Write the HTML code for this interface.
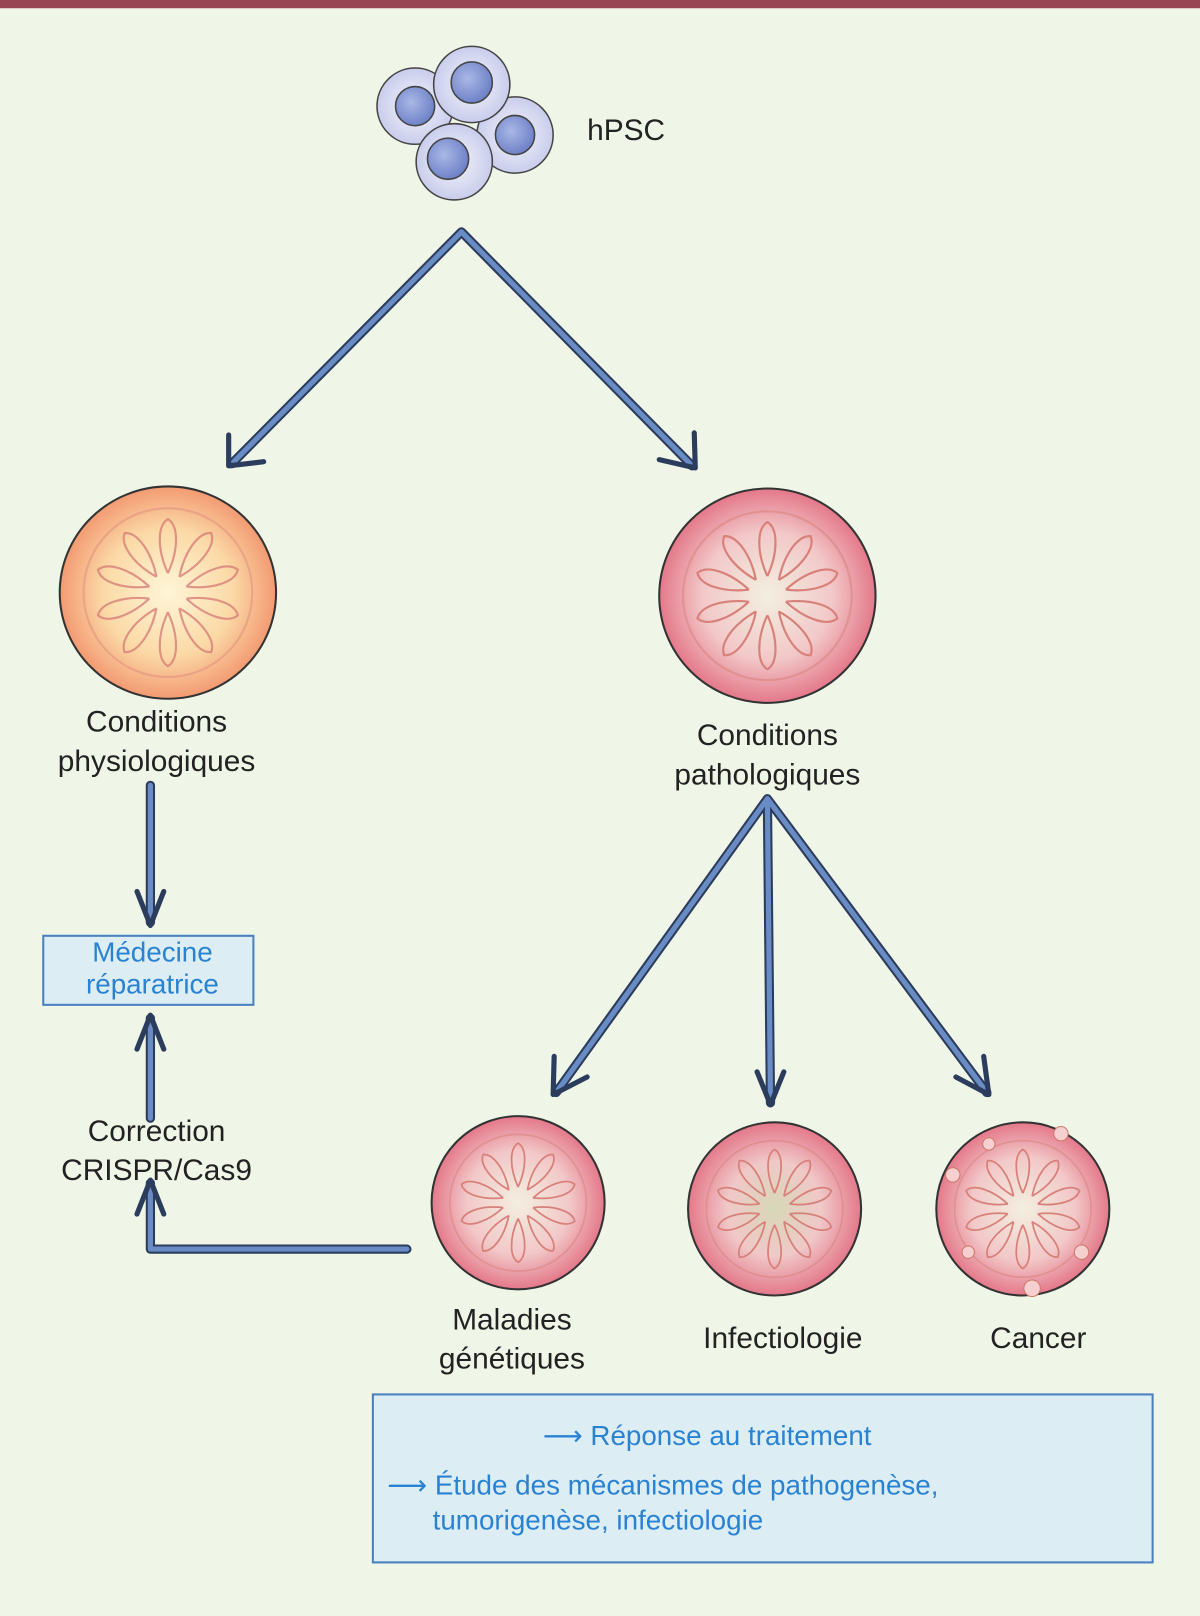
<!DOCTYPE html>
<html><head><meta charset="utf-8"><style>
html,body{margin:0;padding:0;background:#eff5e7;}
svg{display:block}
text{font-family:"Liberation Sans","DejaVu Sans",sans-serif;}
</style></head><body>
<svg width="1200" height="1616" viewBox="0 0 1165 1568" preserveAspectRatio="none" xmlns="http://www.w3.org/2000/svg">
<defs>
<radialGradient id="gOr" cx="50%" cy="50%" r="50%"><stop offset="0" stop-color="#fff6d8"/><stop offset="0.6" stop-color="#fbd9a6"/><stop offset="1" stop-color="#f39a72"/></radialGradient>
<radialGradient id="gPk" cx="50%" cy="50%" r="50%"><stop offset="0" stop-color="#f3efe0"/><stop offset="0.6" stop-color="#f2c8c8"/><stop offset="1" stop-color="#e4788a"/></radialGradient>
<radialGradient id="gInf" cx="50%" cy="50%" r="50%"><stop offset="0" stop-color="#d8d8b8"/><stop offset="0.55" stop-color="#f0c8c8"/><stop offset="1" stop-color="#e4788a"/></radialGradient>
<radialGradient id="gCell" cx="50%" cy="50%" r="50%"><stop offset="0" stop-color="#f4f5fb"/><stop offset="1" stop-color="#c9cdec"/></radialGradient>
<radialGradient id="gNuc" cx="40%" cy="40%" r="60%"><stop offset="0" stop-color="#a9b8e6"/><stop offset="1" stop-color="#6f82c8"/></radialGradient>
<g id="flower" fill="none" stroke="#d8807a" stroke-width="2">
  <g id="petal"><path d="M0,-18 C-10,-40 -10,-62 0,-68 C10,-62 10,-40 0,-18"/></g>
  <use href="#petal" transform="rotate(36)"/><use href="#petal" transform="rotate(72)"/>
  <use href="#petal" transform="rotate(108)"/><use href="#petal" transform="rotate(144)"/>
  <use href="#petal" transform="rotate(180)"/><use href="#petal" transform="rotate(216)"/>
  <use href="#petal" transform="rotate(252)"/><use href="#petal" transform="rotate(288)"/>
  <use href="#petal" transform="rotate(324)"/>
  <circle r="78" stroke-opacity="0.5"/>
</g>
</defs>
<rect width="1165" height="1568" fill="#eff5e7"/>
<rect width="1165" height="8" fill="#984652"/>

<!-- hPSC cells -->
<g stroke="#444" stroke-width="1.5">
<circle cx="403" cy="103" r="37" fill="url(#gCell)"/><circle cx="403" cy="103" r="19" fill="url(#gNuc)"/>
<circle cx="500" cy="131" r="37" fill="url(#gCell)"/><circle cx="500" cy="131" r="19" fill="url(#gNuc)"/>
<circle cx="458" cy="82" r="37" fill="url(#gCell)"/><circle cx="458" cy="80" r="20" fill="url(#gNuc)"/>
<circle cx="441" cy="157" r="37" fill="url(#gCell)"/><circle cx="435" cy="154" r="20" fill="url(#gNuc)"/>
</g>
<text x="570" y="136" font-size="29" fill="#222">hPSC</text>

<!-- arrows -->
<g fill="none" stroke-linecap="round" stroke-linejoin="round">
<g stroke="#2b3c5c" stroke-width="9">
<path d="M448,225 L225,450 M448,225 L672,452"/>
<path d="M745,775 L540,1060 M745,775 L748,1070 M745,775 L958,1060"/>
<path d="M146,762 L146,895 M146,1085 L146,988 M146,1148 L146,1212 L395,1212"/>
</g>
<g stroke="#6a8cc4" stroke-width="5">
<path d="M448,225 L225,450 M448,225 L672,452"/>
<path d="M745,775 L540,1060 M745,775 L748,1070 M745,775 L958,1060"/>
<path d="M146,762 L146,895 M146,1085 L146,988 M146,1148 L146,1212 L395,1212"/>
</g>
<g stroke="#2b3c5c" stroke-width="5">
<path d="M222,422 L222,452 L256,448"/>
<path d="M640,446 L675,454 L674,420"/>
<path d="M538,1025 L537,1062 L570,1045"/>
<path d="M735,1040 L748,1072 L761,1040"/>
<path d="M928,1045 L960,1062 L955,1025"/>
<path d="M133,865 L146,898 L159,865"/>
<path d="M133,1018 L146,985 L159,1018"/>
<path d="M133,1178 L146,1145 L159,1178"/>
</g>
</g>

<!-- organoids -->
<g stroke="#333" stroke-width="2">
<ellipse cx="163" cy="575" rx="105" ry="103" fill="url(#gOr)"/>
<ellipse cx="745" cy="578" rx="105" ry="104" fill="url(#gPk)"/>
<ellipse cx="503" cy="1167" rx="84" ry="84" fill="url(#gPk)"/>
<ellipse cx="752" cy="1173" rx="84" ry="84" fill="url(#gInf)"/>
<ellipse cx="993" cy="1173" rx="84" ry="84" fill="url(#gPk)"/>
</g>
<use href="#flower" transform="translate(163,575) scale(1.05)" opacity="0.8"/>
<use href="#flower" transform="translate(745,578) scale(1.05)"/>
<use href="#flower" transform="translate(503,1167) scale(0.85)"/>
<use href="#flower" transform="translate(752,1173) scale(0.85)"/>
<use href="#flower" transform="translate(993,1173) scale(0.85)"/>
<g fill="#f6d0d0" stroke="#c76" stroke-width="1">
<circle cx="925" cy="1140" r="7"/><circle cx="960" cy="1110" r="6"/><circle cx="1050" cy="1215" r="7"/><circle cx="1002" cy="1250" r="8"/><circle cx="940" cy="1215" r="6"/><circle cx="1030" cy="1100" r="7"/>
</g>

<!-- labels -->
<g font-size="29" fill="#222" text-anchor="middle">
<text x="152" y="710">Conditions</text>
<text x="152" y="748">physiologiques</text>
<text x="745" y="723">Conditions</text>
<text x="745" y="761">pathologiques</text>
<text x="152" y="1107">Correction</text>
<text x="152" y="1145">CRISPR/Cas9</text>
<text x="497" y="1290">Maladies</text>
<text x="497" y="1328">génétiques</text>
<text x="760" y="1308">Infectiologie</text>
<text x="1008" y="1308">Cancer</text>
</g>

<!-- boxes -->
<rect x="42" y="908" width="204" height="67" fill="#dcedf4" stroke="#4a7fc0" stroke-width="2"/>
<g font-size="27" fill="#2a82d2" text-anchor="middle">
<text x="148" y="933">Médecine</text>
<text x="148" y="964">réparatrice</text>
</g>
<rect x="362" y="1353" width="757" height="163" fill="#dcedf4" stroke="#4a7fc0" stroke-width="2"/>
<g font-size="27" fill="#2a82d2">
<text x="527" y="1402">⟶ Réponse au traitement</text>
<text x="376" y="1450">⟶ Étude des mécanismes de pathogenèse,</text>
<text x="420" y="1484">tumorigenèse, infectiologie</text>
</g>
</svg>
</body></html>
